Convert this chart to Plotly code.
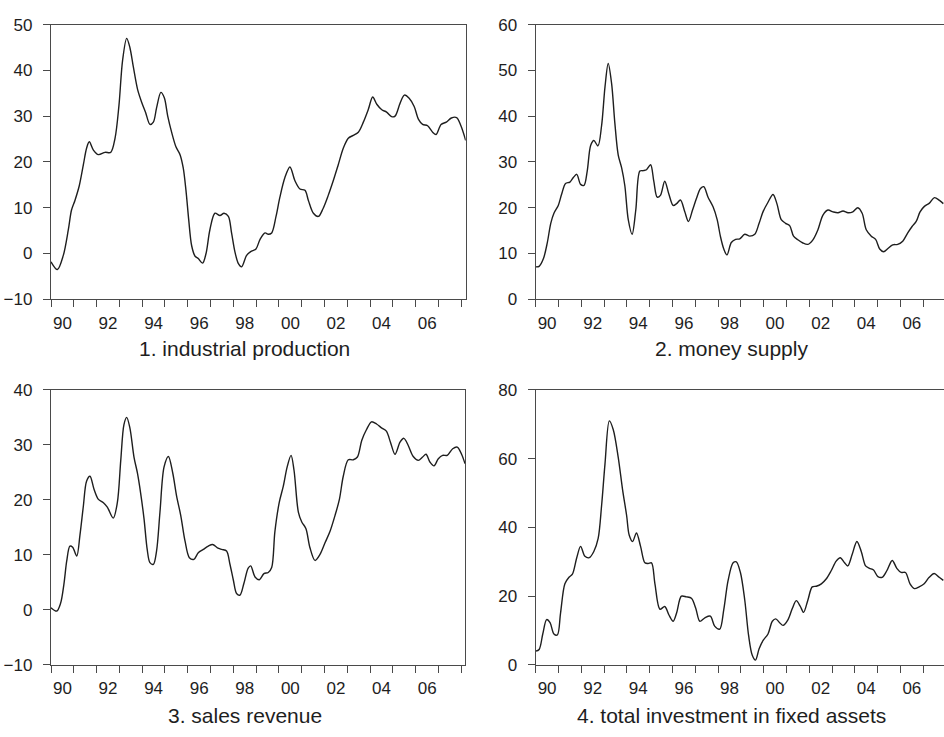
import plotly.graph_objects as go

# ---- data: year-on-year growth rates (%), sampled in decimal years ----
t_ip = [1990.0, 1990.28, 1990.54, 1990.76, 1990.9, 1991.05, 1991.24, 1991.42, 1991.56, 1991.68,
        1991.86, 1992.08, 1992.37, 1992.62, 1992.81, 1992.98, 1993.14, 1993.32, 1993.46, 1993.61,
        1993.8, 1993.98, 1994.15, 1994.34, 1994.49, 1994.63, 1994.82, 1994.97, 1995.12, 1995.29,
        1995.48, 1995.66, 1995.8, 1995.92, 1996.04, 1996.17, 1996.32, 1996.46, 1996.65, 1996.8,
        1996.97, 1997.19, 1997.41, 1997.59, 1997.78, 1997.92, 1998.07, 1998.22, 1998.36, 1998.58,
        1998.76, 1998.99, 1999.17, 1999.39, 1999.53, 1999.68, 1999.87, 2000.04, 2000.26, 2000.48,
        2000.7, 2000.92, 2001.14, 2001.29, 2001.51, 2001.73, 2001.94, 2002.16, 2002.38, 2002.6,
        2002.82, 2003.04, 2003.26, 2003.48, 2003.7, 2003.92, 2004.11, 2004.29, 2004.51, 2004.72,
        2004.94, 2005.09, 2005.31, 2005.5, 2005.71, 2005.93, 2006.12, 2006.3, 2006.52, 2006.74,
        2006.89, 2007.11, 2007.34, 2007.56, 2007.79, 2007.98, 2008.19]
industrial_production = [-1.8, -3.5, -0.4, 5.2, 9.5, 11.6, 14.8, 19.4, 23.0, 24.4,
                         22.6, 21.6, 22.1, 22.1, 25.2, 32.3, 42.2, 47.0, 45.0, 40.8,
                         35.8, 33.0, 30.8, 28.2, 28.7, 31.8, 35.2, 34.0, 30.0, 26.5,
                         23.3, 21.6, 18.7, 13.8, 7.4, 1.7, -0.6, -1.1, -2.1, 0.0,
                         5.2, 8.8, 8.3, 8.8, 8.1, 4.5, 0.3, -2.2, -2.9, -0.4,
                         0.4, 1.0, 3.1, 4.5, 4.2, 4.5, 8.1, 12.3, 16.6, 18.9,
                         15.9, 14.1, 13.8, 11.6, 8.8, 8.1, 9.9, 12.7, 15.9, 19.4,
                         23.0, 25.2, 25.8, 26.5, 28.7, 31.5, 34.2, 32.6, 31.4, 30.9,
                         29.9, 30.0, 32.8, 34.6, 33.9, 32.1, 29.3, 28.2, 27.9, 26.5,
                         26.0, 28.2, 28.7, 29.6, 29.7, 27.9, 24.7]

t_ms = [1990.0, 1990.15, 1990.34, 1990.51, 1990.66, 1990.8, 1990.99, 1991.14, 1991.31, 1991.5,
        1991.65, 1991.8, 1991.97, 1992.12, 1992.26, 1992.41, 1992.55, 1992.73, 1992.89, 1993.04,
        1993.18, 1993.33, 1993.47, 1993.62, 1993.77, 1993.91, 1994.06, 1994.23, 1994.39, 1994.57,
        1994.72, 1994.86, 1995.04, 1995.18, 1995.33, 1995.47, 1995.66, 1995.84, 1996.03, 1996.18,
        1996.35, 1996.54, 1996.7, 1996.88, 1997.05, 1997.23, 1997.37, 1997.56, 1997.78, 1997.96,
        1998.1, 1998.25, 1998.39, 1998.58, 1998.77, 1998.95, 1999.17, 1999.39, 1999.61, 1999.8,
        1999.97, 2000.19, 2000.41, 2000.58, 2000.77, 2000.96, 2001.14, 2001.31, 2001.5, 2001.72,
        2001.94, 2002.16, 2002.38, 2002.6, 2002.82, 2003.04, 2003.26, 2003.48, 2003.7, 2003.91,
        2004.13, 2004.32, 2004.5, 2004.72, 2004.91, 2005.09, 2005.26, 2005.45, 2005.66, 2005.88,
        2006.1, 2006.32, 2006.51, 2006.69, 2006.86, 2007.05, 2007.27, 2007.49, 2007.71, 2007.88]
money_supply = [7.1, 7.2, 8.9, 12.4, 16.6, 18.8, 20.5, 23.0, 25.3, 25.6,
                26.6, 27.3, 25.1, 24.9, 28.0, 33.6, 34.7, 33.5, 37.9, 46.4,
                51.5, 47.1, 38.6, 31.5, 28.7, 24.8, 17.4, 14.2, 19.5, 28.0,
                28.1, 28.3, 29.4, 25.8, 22.3, 22.7, 25.8, 23.0, 20.5, 20.9,
                21.7, 19.1, 17.0, 19.5, 22.0, 24.2, 24.6, 22.3, 20.2, 17.4,
                13.8, 11.0, 9.7, 12.4, 13.1, 13.2, 14.2, 13.8, 14.2, 16.6,
                19.1, 21.2, 22.9, 20.9, 17.4, 16.6, 16.1, 13.8, 13.0, 12.3,
                12.0, 13.0, 15.2, 18.4, 19.5, 19.1, 18.9, 19.3, 18.9, 19.1,
                20.0, 18.8, 15.2, 13.8, 13.1, 11.0, 10.4, 11.1, 11.9, 12.0,
                12.7, 14.5, 15.9, 17.0, 19.1, 20.3, 21.0, 22.2, 21.6, 20.9]

t_sr = [1990.0, 1990.25, 1990.42, 1990.57, 1990.69, 1990.83, 1990.95, 1991.13, 1991.27, 1991.42,
        1991.56, 1991.71, 1991.89, 1992.08, 1992.3, 1992.47, 1992.73, 1992.91, 1993.06, 1993.2,
        1993.32, 1993.46, 1993.64, 1993.79, 1993.93, 1994.08, 1994.22, 1994.34, 1994.49, 1994.63,
        1994.78, 1994.96, 1995.15, 1995.34, 1995.51, 1995.69, 1995.88, 1996.07, 1996.27, 1996.46,
        1996.68, 1996.9, 1997.09, 1997.3, 1997.49, 1997.7, 1997.85, 1998.0, 1998.14, 1998.29,
        1998.46, 1998.65, 1998.76, 1998.95, 1999.14, 1999.34, 1999.53, 1999.68, 1999.82, 2000.01,
        2000.19, 2000.36, 2000.53, 2000.66, 2000.85, 2001.0, 2001.18, 2001.36, 2001.58, 2001.8,
        2002.02, 2002.24, 2002.46, 2002.65, 2002.82, 2003.04, 2003.26, 2003.44, 2003.63, 2003.84,
        2004.06, 2004.28, 2004.5, 2004.71, 2004.89, 2005.09, 2005.31, 2005.48, 2005.67, 2005.89,
        2006.11, 2006.3, 2006.45, 2006.62, 2006.8, 2006.99, 2007.18, 2007.38, 2007.62, 2007.82,
        2008.01, 2008.16]
sales_revenue = [0.4, -0.2, 1.2, 4.8, 8.9, 11.6, 11.4, 9.8, 13.6, 18.9,
                 23.4, 24.3, 21.9, 20.1, 19.5, 18.7, 16.7, 19.5, 27.2, 33.7,
                 35.0, 33.1, 27.8, 24.9, 21.3, 16.6, 11.0, 8.6, 8.3, 10.7,
                 17.8, 26.0, 27.9, 24.9, 20.7, 17.2, 12.5, 9.5, 9.2, 10.4,
                 11.0, 11.6, 11.9, 11.3, 11.0, 10.7, 8.3, 5.4, 3.0, 2.7,
                 4.8, 7.6, 8.0, 6.0, 5.5, 6.6, 6.8, 7.7, 14.2, 19.5,
                 22.5, 26.0, 28.1, 25.4, 17.8, 16.0, 14.8, 11.3, 9.0, 10.1,
                 12.2, 14.3, 17.2, 20.1, 24.3, 27.3, 27.3, 27.8, 30.8, 32.8,
                 34.2, 33.8, 33.1, 32.5, 30.5, 28.3, 30.5, 31.2, 29.9, 27.9,
                 27.2, 27.8, 28.3, 26.9, 26.2, 27.5, 28.1, 28.1, 29.3, 29.6,
                 28.3, 26.6]

t_fa = [1990.0, 1990.15, 1990.31, 1990.48, 1990.63, 1990.8, 1990.95, 1991.09, 1991.28, 1991.46,
        1991.61, 1991.8, 1991.97, 1992.16, 1992.35, 1992.55, 1992.74, 1992.89, 1993.04, 1993.23,
        1993.4, 1993.62, 1993.81, 1993.99, 1994.1, 1994.25, 1994.42, 1994.6, 1994.79, 1994.93,
        1995.08, 1995.23, 1995.45, 1995.66, 1995.84, 1996.03, 1996.18, 1996.39, 1996.61, 1996.83,
        1997.02, 1997.2, 1997.42, 1997.66, 1997.85, 1998.07, 1998.25, 1998.44, 1998.66, 1998.8,
        1998.98, 1999.17, 1999.34, 1999.5, 1999.64, 1999.8, 1999.97, 2000.19, 2000.38, 2000.53,
        2000.7, 2000.85, 2001.07, 2001.26, 2001.43, 2001.61, 2001.75, 2001.94, 2002.13, 2002.31,
        2002.53, 2002.74, 2002.96, 2003.18, 2003.36, 2003.55, 2003.69, 2003.88, 2004.09, 2004.28,
        2004.47, 2004.64, 2004.82, 2005.01, 2005.2, 2005.4, 2005.64, 2005.84, 2006.03, 2006.22,
        2006.42, 2006.61, 2006.82, 2007.04, 2007.26, 2007.48, 2007.7, 2007.88]
fixed_assets = [4.0, 4.5, 9.0, 13.2, 12.3, 9.0, 8.7, 15.1, 23.6, 25.5,
                26.4, 31.2, 34.5, 31.6, 31.2, 33.0, 36.8, 46.3, 58.5, 71.0,
                68.5, 60.4, 51.0, 43.4, 37.8, 35.9, 38.4, 34.5, 29.7, 29.5,
                29.7, 23.6, 16.2, 17.0, 14.6, 12.7, 15.1, 20.0, 19.8, 19.4,
                16.5, 12.7, 13.7, 14.2, 11.3, 10.4, 16.1, 24.6, 29.7, 30.0,
                26.9, 18.9, 8.5, 2.8, 1.4, 4.7, 7.1, 9.0, 12.7, 13.4,
                12.3, 11.5, 13.2, 16.5, 18.7, 17.0, 15.3, 18.9, 22.7, 22.9,
                23.6, 25.0, 27.4, 30.2, 31.2, 29.7, 28.8, 32.1, 35.9, 33.0,
                28.8, 28.1, 27.6, 25.7, 25.5, 27.4, 30.4, 28.1, 26.9, 26.9,
                23.6, 22.2, 22.7, 23.6, 25.5, 26.6, 25.5, 24.6]

titles = ["1. industrial production", "2. money supply",
          "3. sales revenue", "4. total investment in fixed assets"]
year_labels = ["90", "92", "94", "96", "98", "00", "02", "04", "06"]

# ---- layout constants (pixels) ----
W, H = 944, 737
FONT = "Liberation Sans, Arial, sans-serif"
INK = "#1e1e1e"
FRAME = "#4a4a4a"

def px_x(v):
    return v / W

def px_y(v):
    return 1 - v / H

panels = [
    # series x, series y, x-domain px, y-domain px (top, bottom), x range, y range, y ticks, right frame
    (t_ip, industrial_production, (51, 465.7), (16, 298), (1990, 2008.19), (-10, 50), list(range(-10, 51, 10)), True),
    (t_ms, money_supply, (535.7, 944), (16, 298), (1990, 2007.91), (0, 60), list(range(0, 61, 10)), False),
    (t_sr, sales_revenue, (51, 465), (391, 673.3), (1990, 2008.16), (-10, 40), list(range(-10, 41, 10)), True),
    (t_fa, fixed_assets, (535.7, 944), (391, 673.3), (1990, 2007.91), (0, 80), list(range(0, 81, 20)), False),
]

fig = go.Figure()
layout = dict(
    width=W, height=H,
    margin=dict(l=0, r=0, t=0, b=0),
    paper_bgcolor="white", plot_bgcolor="white",
    showlegend=False,
    font=dict(family=FONT, color=INK, size=17),
)

# year labels sit mid-year; tick marks sit on year boundaries
label_pos = [y + 0.5 for y in range(1990, 2007, 2)]
year_ticks = list(range(1990, 2009))

for i, (tx, ty, xd, yd, xr, yr, yt, right) in enumerate(panels):
    n = "" if i == 0 else str(i + 1)
    fig.add_trace(go.Scatter(
        x=tx, y=ty, mode="lines",
        line=dict(color=INK, width=1.4, shape="spline", smoothing=0.9),
        xaxis="x" + n, yaxis="y" + n, hoverinfo="skip",
    ))
    layout["xaxis" + n] = dict(
        domain=[px_x(xd[0]), px_x(xd[1])], range=list(xr), anchor="y" + n,
        showgrid=False, zeroline=False,
        showline=True, linecolor=FRAME, linewidth=1.3, mirror=True,
        tickmode="array", tickvals=label_pos, ticktext=year_labels,
        ticks="outside", ticklen=7, tickcolor="rgba(0,0,0,0)",
        ticklabelstandoff=1,
        tickfont=dict(size=17, color=INK, family=FONT),
        minor=dict(tickmode="array", tickvals=year_ticks, ticks="outside",
                   ticklen=7, tickwidth=1.2, tickcolor=FRAME, showgrid=False),
    )
    layout["yaxis" + n] = dict(
        domain=[px_y(yd[1]), px_y(yd[0])], range=list(yr), anchor="x" + n,
        showgrid=False, zeroline=False,
        showline=True, linecolor=FRAME, linewidth=1.3, mirror=right,
        tickmode="array", tickvals=yt,
        ticks="outside", ticklen=7, tickwidth=1.2, tickcolor=FRAME,
        ticklabelstandoff=7,
        tickfont=dict(size=17, color=INK, family=FONT),
    )

# panel captions under each chart
cap = [(245, 348), (731, 348), (245, 725), (731, 725)]
layout["annotations"] = [
    dict(text=titles[k], x=px_x(cap[k][0]), y=px_y(cap[k][1]), xref="paper", yref="paper",
         xanchor="center", yanchor="middle", showarrow=False,
         font=dict(size=21, color=INK, family=FONT))
    for k in range(4)
]

fig.update_layout(**layout)
fig.write_html("out.html")
